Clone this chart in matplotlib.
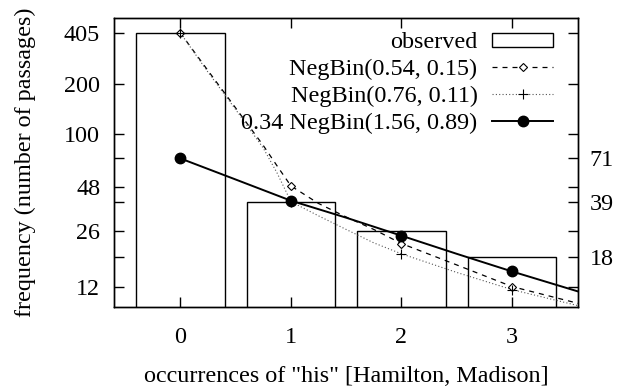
import matplotlib
matplotlib.use("Agg")
import matplotlib.pyplot as plt
from matplotlib.ticker import NullLocator, FixedLocator, FixedFormatter
from matplotlib.patches import Rectangle
from matplotlib.lines import Line2D

plt.rcParams['font.family'] = ['Liberation Serif', 'DejaVu Serif']
FS = 17.4
plt.rcParams['font.size'] = FS

# observed counts
categories = [0, 1, 2, 3]
observed = [405, 39, 26, 18]

# NegBin(0.54, 0.15) curve
nb1_x = [0, 0.25, 0.5, 0.75, 0.875, 1, 1.25, 1.5, 1.75, 2, 2.5, 3, 3.6]
nb1_y = [405, 240, 143, 85, 64, 48.5, 38, 31.5, 26.5, 21.8, 16.2, 12.0, 9.5]
nb1_mark = [405, 48.5, 21.8, 12.0]

# NegBin(0.76, 0.11) curve
nb2_x = [0, 0.25, 0.5, 0.75, 0.875, 1, 1.25, 1.5, 1.75, 2, 2.5, 3, 3.6]
nb2_y = [405, 235, 140, 82, 58, 39, 32, 26.5, 22, 18.9, 14.6, 11.5, 9.2]
nb2_mark = [405, 39, 18.9, 11.5]

# 0.34 NegBin(1.56, 0.89) curve
nb3_x = [0, 0.5, 1, 1.5, 2, 2.5, 3, 3.6]
nb3_y = [71, 53, 39.5, 31.2, 24.3, 18.9, 14.8, 11.2]
nb3_mark = [71, 39.5, 24.3, 14.8]

left_ticks = [405, 200, 100, 71, 48, 39, 26, 18, 12]
left_labels = ['405', '200', '100', '', '48', '', '26', '', '12']
right_labels = ['', '', '', '71', '', '39', '', '18', '']

labels = ['observed', 'NegBin(0.54, 0.15)', 'NegBin(0.76, 0.11)',
          '0.34 NegBin(1.56, 0.89)']

fig = plt.figure(figsize=(6.17, 3.86), dpi=100)
ax = fig.add_axes([0.1848, 0.2039, 0.9373 - 0.1848, 0.9541 - 0.2039])

ax.set_yscale('log')
ax.bar(categories, observed, width=0.8, facecolor='white', edgecolor='black',
       linewidth=1.0, zorder=1)
ax.plot(nb1_x, nb1_y, color='black', linestyle=(0, (4, 4)), linewidth=0.9, zorder=3)
ax.plot(categories, nb1_mark, linestyle='none', marker='D', markersize=4.2,
        markerfacecolor='white', markeredgecolor='black', markeredgewidth=0.8, zorder=4)
ax.plot(nb2_x, nb2_y, color='#555555', linestyle=(0, (1, 2)), linewidth=0.8, zorder=3)
ax.plot(categories, nb2_mark, linestyle='none', marker='+', markersize=7,
        color='black', markeredgewidth=0.8, zorder=4)
ax.plot(nb3_x, nb3_y, color='black', linestyle='-', linewidth=1.4, zorder=5)
ax.plot(categories, nb3_mark, linestyle='none', marker='o', markersize=7.5,
        color='black', zorder=6)

ax.set_xlim(-0.6, 3.6)
ax.set_ylim(9.0, 500)
ax.set_xticks(categories)
ax.set_xticklabels([str(c) for c in categories])
ax.yaxis.set_major_locator(FixedLocator(left_ticks))
ax.yaxis.set_major_formatter(FixedFormatter(left_labels))
ax.yaxis.set_minor_locator(NullLocator())
ax.tick_params(axis='both', direction='in', length=7, width=1.0)
ax.tick_params(axis='x', top=True, pad=14)
ax.tick_params(axis='y', right=True, pad=10)

ax2 = ax.twinx()
ax2.set_yscale('log')
ax2.set_ylim(ax.get_ylim())
ax2.yaxis.set_major_locator(FixedLocator(left_ticks))
ax2.yaxis.set_major_formatter(FixedFormatter(right_labels))
ax2.yaxis.set_minor_locator(NullLocator())
ax2.tick_params(axis='y', direction='in', length=7, width=1.0, pad=8)

for a in (ax, ax2):
    for s in a.spines.values():
        s.set_linewidth(1.0)

ax.set_xlabel('occurrences of "his" [Hamilton, Madison]', labelpad=13)
ax.set_ylabel('frequency (number of passages)', labelpad=20)

handles = [
    Rectangle((0, 0), 1, 1, facecolor='white', edgecolor='black', linewidth=1.0),
    Line2D([], [], color='black', linestyle=(0, (4, 4)), linewidth=0.9, marker='D',
           markersize=4.2, markerfacecolor='white', markeredgewidth=0.8),
    Line2D([], [], color='#555555', linestyle=(0, (1, 2)), linewidth=0.8, marker='+',
           markersize=7, markeredgecolor='black', markeredgewidth=0.8),
    Line2D([], [], color='black', linestyle='-', linewidth=1.4, marker='o', markersize=7.5),
]
leg = ax2.legend(handles, labels, loc='upper right', bbox_to_anchor=(0.945, 0.95),
                 frameon=False, markerfirst=False,
                 handlelength=2.5, handleheight=0.5, labelspacing=0.24,
                 handletextpad=0.62, borderaxespad=0.0, borderpad=0.0,
                 fontsize=FS)
leg.set_zorder(10)

fig.savefig('out.png', dpi=100)
